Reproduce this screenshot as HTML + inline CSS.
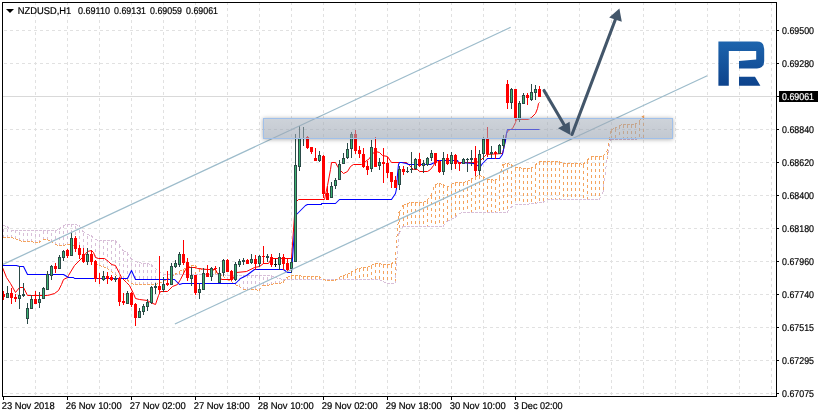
<!DOCTYPE html>
<html><head><meta charset="utf-8"><title>NZDUSD H1</title>
<style>
html,body{margin:0;padding:0;background:#fff;}
body{width:819px;height:417px;overflow:hidden;font-family:"Liberation Sans",sans-serif;}
svg{display:block;will-change:transform;}
</style></head><body>
<svg width="819" height="417" viewBox="0 0 819 417">
<defs>
<linearGradient id="lg" x1="0" y1="0" x2="0" y2="1"><stop offset="0" stop-color="#1d64ad"/><stop offset="1" stop-color="#0d438c"/></linearGradient>
<linearGradient id="zg" x1="0" y1="0" x2="0" y2="1"><stop offset="0" stop-color="rgb(157,167,180)" stop-opacity="0.5"/><stop offset="1" stop-color="rgb(157,167,180)" stop-opacity="0.62"/></linearGradient>
<filter id="bl" x="-5%" y="-60%" width="110%" height="220%"><feGaussianBlur stdDeviation="2"/></filter>
<clipPath id="outside"><path clip-rule="evenodd" d="M0 0H819V417H0Z M263.5 118.5H672.5V138.5H263.5Z"/></clipPath>
</defs>
<rect width="819" height="417" fill="#fff"/>
<g stroke="#e1e1e1" stroke-width="1" stroke-dasharray="3 3" shape-rendering="crispEdges"><line x1="35.5" y1="2" x2="35.5" y2="396"/><line x1="67.5" y1="2" x2="67.5" y2="396"/><line x1="99.5" y1="2" x2="99.5" y2="396"/><line x1="131.5" y1="2" x2="131.5" y2="396"/><line x1="163.5" y1="2" x2="163.5" y2="396"/><line x1="195.5" y1="2" x2="195.5" y2="396"/><line x1="227.5" y1="2" x2="227.5" y2="396"/><line x1="259.5" y1="2" x2="259.5" y2="396"/><line x1="291.5" y1="2" x2="291.5" y2="396"/><line x1="323.5" y1="2" x2="323.5" y2="396"/><line x1="355.5" y1="2" x2="355.5" y2="396"/><line x1="387.5" y1="2" x2="387.5" y2="396"/><line x1="419.5" y1="2" x2="419.5" y2="396"/><line x1="451.5" y1="2" x2="451.5" y2="396"/><line x1="483.5" y1="2" x2="483.5" y2="396"/><line x1="515.5" y1="2" x2="515.5" y2="396"/><line x1="547.5" y1="2" x2="547.5" y2="396"/><line x1="579.5" y1="2" x2="579.5" y2="396"/><line x1="611.5" y1="2" x2="611.5" y2="396"/><line x1="643.5" y1="2" x2="643.5" y2="396"/><line x1="675.5" y1="2" x2="675.5" y2="396"/><line x1="707.5" y1="2" x2="707.5" y2="396"/><line x1="739.5" y1="2" x2="739.5" y2="396"/><line x1="771.5" y1="2" x2="771.5" y2="396"/><line x1="4" y1="30.5" x2="776" y2="30.5"/><line x1="4" y1="63.5" x2="776" y2="63.5"/><line x1="4" y1="129.5" x2="776" y2="129.5"/><line x1="4" y1="162.5" x2="776" y2="162.5"/><line x1="4" y1="195.5" x2="776" y2="195.5"/><line x1="4" y1="228.5" x2="776" y2="228.5"/><line x1="4" y1="261.5" x2="776" y2="261.5"/><line x1="4" y1="294.5" x2="776" y2="294.5"/><line x1="4" y1="327.5" x2="776" y2="327.5"/><line x1="4" y1="360.5" x2="776" y2="360.5"/><line x1="4" y1="393.5" x2="776" y2="393.5"/></g>
<line x1="3" y1="96.5" x2="776" y2="96.5" stroke="#d9d9d9" stroke-width="1" shape-rendering="crispEdges"/>
<g fill="none" stroke-width="1" stroke-dasharray="3 3" shape-rendering="crispEdges"><path d="M3.5 237.5V225.5M7.5 237.5V226.5M11.5 237.5V230.5M15.5 238.5V230.5M19.5 240.5V230.5M23.5 241.5V230.5M27.5 241.5V230.5M31.5 241.5V230.5M35.5 242.5V230.5M39.5 242.5V230.5M43.5 239.5V230.5M47.5 239.5V230.5M51.5 241.5V230.5M55.5 244.5V230.5M59.5 245.5V229.5M63.5 245.5V225.5M67.5 244.5V224.5M71.5 244.5V224.5M75.5 246.5V224.5M79.5 250.5V225.5M83.5 253.5V231.5M87.5 256.5V234.5M91.5 259.5V235.5M95.5 263.5V239.5M99.5 265.5V240.5M103.5 266.5V240.5M107.5 268.5V240.5M111.5 271.5V240.5M115.5 274.5V240.5M119.5 277.5V244.5M123.5 278.5V250.5M127.5 279.5V252.5M131.5 283.5V258.5M135.5 284.5V261.5M139.5 284.5V262.5M143.5 284.5V263.5M147.5 284.5V263.5M151.5 284.5V264.5M155.5 284.5V268.5M159.5 283.5V271.5M163.5 281.5V274.5M167.5 279.5V274.5M171.5 276.5V274.5M223.5 276.5V274.5M227.5 279.5V275.5M231.5 281.5V275.5M235.5 284.5V275.5M239.5 286.5V275.5M243.5 289.5V275.5M247.5 289.5V275.5M251.5 289.5V275.5M255.5 289.5V275.5M259.5 290.5V275.5M263.5 285.5V275.5M267.5 285.5V275.5M271.5 284.5V275.5M275.5 283.5V277.5M279.5 283.5V278.5M283.5 282.5V279.5" stroke="#d8bfd8"/><path d="M179.5 271.5V274.5M183.5 269.5V274.5M187.5 267.5V274.5M191.5 265.5V274.5M195.5 265.5V274.5M199.5 268.5V274.5M203.5 269.5V274.5M207.5 269.5V274.5M211.5 269.5V274.5M215.5 270.5V274.5M287.5 277.5V279.5M291.5 275.5V279.5M295.5 275.5V279.5M299.5 275.5V279.5M303.5 276.5V279.5M307.5 276.5V279.5M311.5 276.5V279.5M315.5 276.5V279.5M319.5 276.5V279.5M339.5 277.5V279.5M343.5 275.5V279.5M347.5 274.5V279.5M351.5 272.5V279.5M355.5 269.5V279.5M359.5 268.5V279.5M363.5 267.5V279.5M367.5 267.5V279.5M371.5 265.5V279.5M375.5 263.5V279.5M379.5 263.5V279.5M383.5 264.5V281.5M387.5 264.5V283.5M391.5 264.5V283.5M395.5 260.5V283.5M399.5 212.5V233.5M403.5 205.5V226.5M407.5 203.5V226.5M411.5 202.5V226.5M415.5 202.5V226.5M419.5 202.5V226.5M423.5 202.5V226.5M427.5 200.5V226.5M431.5 195.5V226.5M435.5 184.5V226.5M439.5 183.5V226.5M443.5 184.5V226.5M447.5 187.5V221.5M451.5 184.5V219.5M455.5 182.5V217.5M459.5 182.5V213.5M463.5 182.5V212.5M467.5 181.5V212.5M471.5 179.5V212.5M475.5 176.5V212.5M479.5 175.5V212.5M483.5 176.5V212.5M487.5 179.5V212.5M491.5 179.5V212.5M495.5 180.5V212.5M499.5 177.5V212.5M503.5 164.5V212.5M507.5 163.5V212.5M511.5 164.5V207.5M515.5 167.5V204.5M519.5 167.5V204.5M523.5 168.5V204.5M527.5 168.5V204.5M531.5 168.5V203.5M535.5 165.5V203.5M539.5 161.5V202.5M543.5 161.5V202.5M547.5 161.5V199.5M551.5 161.5V199.5M555.5 161.5V199.5M559.5 161.5V199.5M563.5 163.5V199.5M567.5 163.5V199.5M571.5 163.5V199.5M575.5 163.5V199.5M579.5 163.5V199.5M583.5 164.5V199.5M587.5 160.5V199.5M591.5 156.5V199.5M595.5 156.5V199.5M599.5 156.5V199.5M603.5 156.5V192.5M607.5 151.5V158.5M611.5 129.5V139.5M615.5 128.5V139.5M619.5 125.5V139.5M623.5 124.5V139.5M627.5 124.5V139.5M631.5 124.5V139.5M635.5 124.5V139.5M639.5 121.5V138.5M643.5 116.5V137.5" stroke="#f4a460"/><path d="M3 225.5L7 226.5M7 226.5L11 230.5M11 230.5L15 230.5M15 230.5L19 230.5M19 230.5L23 230.5M23 230.5L27 230.5M27 230.5L31 230.5M31 230.5L35 230.5M35 230.5L39 230.5M39 230.5L43 230.5M43 230.5L47 230.5M47 230.5L51 230.5M51 230.5L55 230.5M55 230.5L59 229.5M59 229.5L63 225.5M63 225.5L67 224.5M67 224.5L71 224.5M71 224.5L75 224.5M75 224.5L79 225.5M79 225.5L83 231.5M83 231.5L87 234.5M87 234.5L91 235.5M91 235.5L95 239.5M95 239.5L99 240.5M99 240.5L103 240.5M103 240.5L107 240.5M107 240.5L111 240.5M111 240.5L115 240.5M115 240.5L119 244.5M119 244.5L123 250.5M123 250.5L127 252.5M127 252.5L131 258.5M131 258.5L135 261.5M135 261.5L139 262.5M139 262.5L143 263.5M143 263.5L147 263.5M147 263.5L151 264.5M151 264.5L155 268.5M155 268.5L159 271.5M159 271.5L163 274.5M163 274.5L167 274.5M167 274.5L171 274.5M171 274.5L175 274.5M175 274.5L179 274.5M179 274.5L183 274.5M183 274.5L187 274.5M187 274.5L191 274.5M191 274.5L195 274.5M195 274.5L199 274.5M199 274.5L203 274.5M203 274.5L207 274.5M207 274.5L211 274.5M211 274.5L215 274.5M215 274.5L219 274.5M219 274.5L223 274.5M223 274.5L227 275.5M227 275.5L231 275.5M231 275.5L235 275.5M235 275.5L239 275.5M239 275.5L243 275.5M243 275.5L247 275.5M247 275.5L251 275.5M251 275.5L255 275.5M255 275.5L259 275.5M259 275.5L263 275.5M263 275.5L267 275.5M267 275.5L271 275.5M271 275.5L275 277.5M275 277.5L279 278.5M279 278.5L283 279.5M283 279.5L287 279.5M287 279.5L291 279.5M291 279.5L295 279.5M295 279.5L299 279.5M299 279.5L303 279.5M303 279.5L307 279.5M307 279.5L311 279.5M311 279.5L315 279.5M315 279.5L319 279.5M319 279.5L323 279.5M323 279.5L327 279.5M327 279.5L331 279.5M331 279.5L335 279.5M335 279.5L339 279.5M339 279.5L343 279.5M343 279.5L347 279.5M347 279.5L351 279.5M351 279.5L355 279.5M355 279.5L359 279.5M359 279.5L363 279.5M363 279.5L367 279.5M367 279.5L371 279.5M371 279.5L375 279.5M375 279.5L379 279.5M379 279.5L383 281.5M383 281.5L387 283.5M387 283.5L391 283.5M391 283.5L395 283.5M395 283.5L399 233.5M399 233.5L403 226.5M403 226.5L407 226.5M407 226.5L411 226.5M411 226.5L415 226.5M415 226.5L419 226.5M419 226.5L423 226.5M423 226.5L427 226.5M427 226.5L431 226.5M431 226.5L435 226.5M435 226.5L439 226.5M439 226.5L443 226.5M443 226.5L447 221.5M447 221.5L451 219.5M451 219.5L455 217.5M455 217.5L459 213.5M459 213.5L463 212.5M463 212.5L467 212.5M467 212.5L471 212.5M471 212.5L475 212.5M475 212.5L479 212.5M479 212.5L483 212.5M483 212.5L487 212.5M487 212.5L491 212.5M491 212.5L495 212.5M495 212.5L499 212.5M499 212.5L503 212.5M503 212.5L507 212.5M507 212.5L511 207.5M511 207.5L515 204.5M515 204.5L519 204.5M519 204.5L523 204.5M523 204.5L527 204.5M527 204.5L531 203.5M531 203.5L535 203.5M535 203.5L539 202.5M539 202.5L543 202.5M543 202.5L547 199.5M547 199.5L551 199.5M551 199.5L555 199.5M555 199.5L559 199.5M559 199.5L563 199.5M563 199.5L567 199.5M567 199.5L571 199.5M571 199.5L575 199.5M575 199.5L579 199.5M579 199.5L583 199.5M583 199.5L587 199.5M587 199.5L591 199.5M591 199.5L595 199.5M595 199.5L599 199.5M599 199.5L603 192.5M603 192.5L607 158.5M607 158.5L611 139.5M611 139.5L615 139.5M615 139.5L619 139.5M619 139.5L623 139.5M623 139.5L627 139.5M627 139.5L631 139.5M631 139.5L635 139.5M635 139.5L639 138.5M639 138.5L643 137.5" stroke="#d8bfd8"/><path d="M3 237.5L7 237.5M7 237.5L11 237.5M11 237.5L15 238.5M15 238.5L19 240.5M19 240.5L23 241.5M23 241.5L27 241.5M27 241.5L31 241.5M31 241.5L35 242.5M35 242.5L39 242.5M39 242.5L43 239.5M43 239.5L47 239.5M47 239.5L51 241.5M51 241.5L55 244.5M55 244.5L59 245.5M59 245.5L63 245.5M63 245.5L67 244.5M67 244.5L71 244.5M71 244.5L75 246.5M75 246.5L79 250.5M79 250.5L83 253.5M83 253.5L87 256.5M87 256.5L91 259.5M91 259.5L95 263.5M95 263.5L99 265.5M99 265.5L103 266.5M103 266.5L107 268.5M107 268.5L111 271.5M111 271.5L115 274.5M115 274.5L119 277.5M119 277.5L123 278.5M123 278.5L127 279.5M127 279.5L131 283.5M131 283.5L135 284.5M135 284.5L139 284.5M139 284.5L143 284.5M143 284.5L147 284.5M147 284.5L151 284.5M151 284.5L155 284.5M155 284.5L159 283.5M159 283.5L163 281.5M163 281.5L167 279.5M167 279.5L171 276.5M171 276.5L175 274.5M175 274.5L179 271.5M179 271.5L183 269.5M183 269.5L187 267.5M187 267.5L191 265.5M191 265.5L195 265.5M195 265.5L199 268.5M199 268.5L203 269.5M203 269.5L207 269.5M207 269.5L211 269.5M211 269.5L215 270.5M215 270.5L219 274.5M219 274.5L223 276.5M223 276.5L227 279.5M227 279.5L231 281.5M231 281.5L235 284.5M235 284.5L239 286.5M239 286.5L243 289.5M243 289.5L247 289.5M247 289.5L251 289.5M251 289.5L255 289.5M255 289.5L259 290.5M259 290.5L263 285.5M263 285.5L267 285.5M267 285.5L271 284.5M271 284.5L275 283.5M275 283.5L279 283.5M279 283.5L283 282.5M283 282.5L287 277.5M287 277.5L291 275.5M291 275.5L295 275.5M295 275.5L299 275.5M299 275.5L303 276.5M303 276.5L307 276.5M307 276.5L311 276.5M311 276.5L315 276.5M315 276.5L319 276.5M319 276.5L323 279.5M323 279.5L327 280.5M327 280.5L331 280.5M331 280.5L335 280.5M335 280.5L339 277.5M339 277.5L343 275.5M343 275.5L347 274.5M347 274.5L351 272.5M351 272.5L355 269.5M355 269.5L359 268.5M359 268.5L363 267.5M363 267.5L367 267.5M367 267.5L371 265.5M371 265.5L375 263.5M375 263.5L379 263.5M379 263.5L383 264.5M383 264.5L387 264.5M387 264.5L391 264.5M391 264.5L395 260.5M395 260.5L399 212.5M399 212.5L403 205.5M403 205.5L407 203.5M407 203.5L411 202.5M411 202.5L415 202.5M415 202.5L419 202.5M419 202.5L423 202.5M423 202.5L427 200.5M427 200.5L431 195.5M431 195.5L435 184.5M435 184.5L439 183.5M439 183.5L443 184.5M443 184.5L447 187.5M447 187.5L451 184.5M451 184.5L455 182.5M455 182.5L459 182.5M459 182.5L463 182.5M463 182.5L467 181.5M467 181.5L471 179.5M471 179.5L475 176.5M475 176.5L479 175.5M479 175.5L483 176.5M483 176.5L487 179.5M487 179.5L491 179.5M491 179.5L495 180.5M495 180.5L499 177.5M499 177.5L503 164.5M503 164.5L507 163.5M507 163.5L511 164.5M511 164.5L515 167.5M515 167.5L519 167.5M519 167.5L523 168.5M523 168.5L527 168.5M527 168.5L531 168.5M531 168.5L535 165.5M535 165.5L539 161.5M539 161.5L543 161.5M543 161.5L547 161.5M547 161.5L551 161.5M551 161.5L555 161.5M555 161.5L559 161.5M559 161.5L563 163.5M563 163.5L567 163.5M567 163.5L571 163.5M571 163.5L575 163.5M575 163.5L579 163.5M579 163.5L583 164.5M583 164.5L587 160.5M587 160.5L591 156.5M591 156.5L595 156.5M595 156.5L599 156.5M599 156.5L603 156.5M603 156.5L607 151.5M607 151.5L611 129.5M611 129.5L615 128.5M615 128.5L619 125.5M619 125.5L623 124.5M623 124.5L627 124.5M627 124.5L631 124.5M631 124.5L635 124.5M635 124.5L639 121.5M639 121.5L643 116.5" stroke="#f4a460"/></g>
<polygon points="644.2,115 644.2,118.4 641.4,116.7" fill="#f4a460"/>
<polyline points="2.5,267.5 6.5,277.5 10.5,283.5 15.5,292.5 19.5,287.5 23.5,287.5 27.5,295.5 47.5,295.5 54.5,293.5 58.5,290.5 61.5,284.5 63.5,279.5 67.5,277.5 68.5,275.5 74.5,265.5 82.5,257.5 87.5,251.5 91.5,250.5 93.5,252.5 95.5,257.5 98.5,258.5 104.5,258.5 108.5,261.5 111.5,264.5 115.5,265.5 119.5,273.5 121.5,277.5 126.5,282.5 129.5,285.5 133.5,293.5 135.5,298.5 139.5,299.5 147.5,300.5 150.5,302.5 155.5,304.5 158.5,295.5 160.5,291.5 167.5,291.5 172.5,286.5 177.5,284.5 180.5,279.5 185.5,269.5 188.5,267.5 195.5,267.5 197.5,268.5 207.5,269.5 215.5,269.5 217.5,273.5 218.5,274.5 221.5,279.5 232.5,279.5 236.5,272.5 246.5,271.5 254.5,267.5 259.5,266.5 263.5,263.5 268.5,263.5 271.5,258.5 291.5,258.5 295.5,201.5 296.5,201.5 298.5,199.5 324.5,199.5 327.5,185.5 330.5,169.5 331.5,162.5 335.5,162.5 337.5,166.5 340.5,170.5 343.5,173.5 347.5,171.5 350.5,166.5 353.5,164.5 361.5,164.5 365.5,161.5 369.5,158.5 371.5,154.5 375.5,151.5 379.5,152.5 382.5,155.5 387.5,156.5 391.5,162.5 399.5,162.5 406.5,162.5 409.5,165.5 413.5,169.5 417.5,169.5 419.5,171.5 427.5,171.5 430.5,169.5 433.5,165.5 435.5,161.5 438.5,160.5 455.5,160.5 458.5,162.5 476.5,162.5 480.5,160.5 484.5,156.5 486.5,154.5 502.5,153.5 503.5,149.5 506.5,133.5 508.5,130.5 512.5,128.5 515.5,122.5 516.5,119.5 519.5,119.5 528.5,119.5 531.5,117.5 535.5,113.5 537.5,108.5 538.5,103.5 539.5,102.5" fill="none" stroke="#ff0000" stroke-width="1" stroke-linejoin="round"/><polyline points="2.5,265.5 16.5,265.5 19.5,266.5 23.5,266.5 27.5,274.5 63.5,274.5 68.5,277.5 73.5,277.5 74.5,278.5 127.5,278.5 131.5,270.5 135.5,279.5 174.5,279.5 179.5,284.5 182.5,283.5 235.5,283.5 240.5,278.5 246.5,275.5 254.5,269.5 256.5,269.5 283.5,269.5 287.5,272.5 291.5,272.5 295.5,216.5 296.5,214.5 301.5,209.5 305.5,205.5 307.5,204.5 321.5,204.5 321.5,203.5 335.5,203.5 339.5,199.5 391.5,199.5 395.5,193.5 396.5,188.5 397.5,174.5 398.5,164.5 399.5,162.5 401.5,162.5 406.5,163.5 408.5,164.5 430.5,164.5 434.5,162.5 435.5,160.5 457.5,160.5 458.5,162.5 473.5,163.5 477.5,165.5 480.5,166.5 482.5,163.5 485.5,160.5 487.5,158.5 499.5,158.5 502.5,154.5 503.5,149.5 505.5,140.5 506.5,133.5 507.5,129.5 539.5,129.5" fill="none" stroke="#0000ff" stroke-width="1.05" stroke-linejoin="round"/>
<g shape-rendering="crispEdges"><rect x="3" y="291" width="1" height="9" fill="#ff0000"/><rect x="2" y="294" width="3" height="3" fill="#ff0000"/><rect x="7" y="286" width="1" height="12" fill="#2b4a47"/><rect x="6" y="293" width="3" height="5" fill="#2b4a47"/><rect x="7" y="294" width="1" height="3" fill="#3cb371"/><rect x="11" y="288" width="1" height="16" fill="#ff0000"/><rect x="10" y="293" width="3" height="5" fill="#ff0000"/><rect x="15" y="294" width="1" height="8" fill="#ff0000"/><rect x="14" y="297" width="3" height="2" fill="#ff0000"/><rect x="19" y="266" width="1" height="43" fill="#2b4a47"/><rect x="18" y="295" width="3" height="4" fill="#2b4a47"/><rect x="19" y="296" width="1" height="2" fill="#3cb371"/><rect x="23" y="283" width="1" height="14" fill="#2b4a47"/><rect x="22" y="294" width="3" height="2" fill="#2b4a47"/><rect x="27" y="303" width="1" height="21" fill="#2b4a47"/><rect x="26" y="308" width="3" height="11" fill="#2b4a47"/><rect x="27" y="309" width="1" height="9" fill="#3cb371"/><rect x="31" y="295" width="1" height="14" fill="#2b4a47"/><rect x="30" y="299" width="3" height="10" fill="#2b4a47"/><rect x="31" y="300" width="1" height="8" fill="#3cb371"/><rect x="35" y="291" width="1" height="13" fill="#ff0000"/><rect x="34" y="299" width="3" height="5" fill="#ff0000"/><rect x="39" y="292" width="1" height="16" fill="#2b4a47"/><rect x="38" y="299" width="3" height="4" fill="#2b4a47"/><rect x="39" y="300" width="1" height="2" fill="#3cb371"/><rect x="43" y="287" width="1" height="12" fill="#2b4a47"/><rect x="42" y="288" width="3" height="11" fill="#2b4a47"/><rect x="43" y="289" width="1" height="9" fill="#3cb371"/><rect x="47" y="271" width="1" height="19" fill="#2b4a47"/><rect x="46" y="274" width="3" height="16" fill="#2b4a47"/><rect x="47" y="275" width="1" height="14" fill="#3cb371"/><rect x="51" y="265" width="1" height="15" fill="#2b4a47"/><rect x="50" y="266" width="3" height="10" fill="#2b4a47"/><rect x="51" y="267" width="1" height="8" fill="#3cb371"/><rect x="55" y="263" width="1" height="10" fill="#ff0000"/><rect x="54" y="266" width="3" height="3" fill="#ff0000"/><rect x="59" y="255" width="1" height="14" fill="#2b4a47"/><rect x="58" y="257" width="3" height="12" fill="#2b4a47"/><rect x="59" y="258" width="1" height="10" fill="#3cb371"/><rect x="63" y="250" width="1" height="11" fill="#2b4a47"/><rect x="62" y="251" width="3" height="7" fill="#2b4a47"/><rect x="63" y="252" width="1" height="5" fill="#3cb371"/><rect x="67" y="249" width="1" height="9" fill="#ff0000"/><rect x="66" y="250" width="3" height="6" fill="#ff0000"/><rect x="71" y="233" width="1" height="23" fill="#2b4a47"/><rect x="70" y="238" width="3" height="18" fill="#2b4a47"/><rect x="71" y="239" width="1" height="16" fill="#3cb371"/><rect x="75" y="236" width="1" height="16" fill="#ff0000"/><rect x="74" y="238" width="3" height="11" fill="#ff0000"/><rect x="79" y="245" width="1" height="14" fill="#ff0000"/><rect x="78" y="248" width="3" height="7" fill="#ff0000"/><rect x="83" y="248" width="1" height="15" fill="#ff0000"/><rect x="82" y="254" width="3" height="8" fill="#ff0000"/><rect x="87" y="248" width="1" height="17" fill="#2b4a47"/><rect x="86" y="254" width="3" height="8" fill="#2b4a47"/><rect x="87" y="255" width="1" height="6" fill="#3cb371"/><rect x="91" y="250" width="1" height="15" fill="#ff0000"/><rect x="90" y="254" width="3" height="8" fill="#ff0000"/><rect x="95" y="260" width="1" height="22" fill="#ff0000"/><rect x="94" y="261" width="3" height="18" fill="#ff0000"/><rect x="99" y="273" width="1" height="11" fill="#ff0000"/><rect x="98" y="278" width="3" height="1" fill="#ff0000"/><rect x="103" y="271" width="1" height="10" fill="#2b4a47"/><rect x="102" y="276" width="3" height="4" fill="#2b4a47"/><rect x="103" y="277" width="1" height="2" fill="#3cb371"/><rect x="107" y="272" width="1" height="12" fill="#ff0000"/><rect x="106" y="276" width="3" height="3" fill="#ff0000"/><rect x="111" y="275" width="1" height="6" fill="#ff0000"/><rect x="110" y="277" width="3" height="3" fill="#ff0000"/><rect x="115" y="276" width="1" height="6" fill="#2b4a47"/><rect x="114" y="278" width="3" height="2" fill="#2b4a47"/><rect x="119" y="277" width="1" height="29" fill="#ff0000"/><rect x="118" y="278" width="3" height="24" fill="#ff0000"/><rect x="123" y="293" width="1" height="12" fill="#ff0000"/><rect x="122" y="301" width="3" height="2" fill="#ff0000"/><rect x="127" y="291" width="1" height="13" fill="#2b4a47"/><rect x="126" y="293" width="3" height="11" fill="#2b4a47"/><rect x="127" y="294" width="1" height="9" fill="#3cb371"/><rect x="131" y="292" width="1" height="15" fill="#ff0000"/><rect x="130" y="293" width="3" height="12" fill="#ff0000"/><rect x="135" y="303" width="1" height="23" fill="#ff0000"/><rect x="134" y="304" width="3" height="14" fill="#ff0000"/><rect x="139" y="308" width="1" height="10" fill="#2b4a47"/><rect x="138" y="311" width="3" height="7" fill="#2b4a47"/><rect x="139" y="312" width="1" height="5" fill="#3cb371"/><rect x="143" y="304" width="1" height="11" fill="#2b4a47"/><rect x="142" y="306" width="3" height="6" fill="#2b4a47"/><rect x="143" y="307" width="1" height="4" fill="#3cb371"/><rect x="147" y="299" width="1" height="12" fill="#2b4a47"/><rect x="146" y="302" width="3" height="5" fill="#2b4a47"/><rect x="147" y="303" width="1" height="3" fill="#3cb371"/><rect x="151" y="286" width="1" height="18" fill="#2b4a47"/><rect x="150" y="287" width="3" height="16" fill="#2b4a47"/><rect x="151" y="288" width="1" height="14" fill="#3cb371"/><rect x="155" y="283" width="1" height="11" fill="#2b4a47"/><rect x="154" y="286" width="3" height="2" fill="#2b4a47"/><rect x="159" y="256" width="1" height="38" fill="#ff0000"/><rect x="158" y="286" width="3" height="4" fill="#ff0000"/><rect x="163" y="277" width="1" height="15" fill="#2b4a47"/><rect x="162" y="284" width="3" height="6" fill="#2b4a47"/><rect x="163" y="285" width="1" height="4" fill="#3cb371"/><rect x="167" y="271" width="1" height="15" fill="#ff0000"/><rect x="166" y="283" width="3" height="2" fill="#ff0000"/><rect x="171" y="263" width="1" height="22" fill="#2b4a47"/><rect x="170" y="266" width="3" height="19" fill="#2b4a47"/><rect x="171" y="267" width="1" height="17" fill="#3cb371"/><rect x="175" y="260" width="1" height="8" fill="#2b4a47"/><rect x="174" y="263" width="3" height="4" fill="#2b4a47"/><rect x="175" y="264" width="1" height="2" fill="#3cb371"/><rect x="179" y="252" width="1" height="15" fill="#2b4a47"/><rect x="178" y="254" width="3" height="11" fill="#2b4a47"/><rect x="179" y="255" width="1" height="9" fill="#3cb371"/><rect x="183" y="240" width="1" height="25" fill="#ff0000"/><rect x="182" y="254" width="3" height="9" fill="#ff0000"/><rect x="187" y="258" width="1" height="23" fill="#ff0000"/><rect x="186" y="262" width="3" height="16" fill="#ff0000"/><rect x="191" y="267" width="1" height="19" fill="#2b4a47"/><rect x="190" y="275" width="3" height="4" fill="#2b4a47"/><rect x="191" y="276" width="1" height="2" fill="#3cb371"/><rect x="195" y="275" width="1" height="20" fill="#ff0000"/><rect x="194" y="275" width="3" height="18" fill="#ff0000"/><rect x="199" y="283" width="1" height="16" fill="#2b4a47"/><rect x="198" y="289" width="3" height="4" fill="#2b4a47"/><rect x="199" y="290" width="1" height="2" fill="#3cb371"/><rect x="203" y="268" width="1" height="22" fill="#2b4a47"/><rect x="202" y="273" width="3" height="17" fill="#2b4a47"/><rect x="203" y="274" width="1" height="15" fill="#3cb371"/><rect x="207" y="265" width="1" height="12" fill="#ff0000"/><rect x="206" y="273" width="3" height="4" fill="#ff0000"/><rect x="211" y="267" width="1" height="14" fill="#2b4a47"/><rect x="210" y="268" width="3" height="9" fill="#2b4a47"/><rect x="211" y="269" width="1" height="7" fill="#3cb371"/><rect x="215" y="266" width="1" height="4" fill="#ff0000"/><rect x="214" y="268" width="3" height="1" fill="#ff0000"/><rect x="219" y="267" width="1" height="16" fill="#2b4a47"/><rect x="218" y="273" width="3" height="10" fill="#2b4a47"/><rect x="219" y="274" width="1" height="8" fill="#3cb371"/><rect x="223" y="259" width="1" height="17" fill="#2b4a47"/><rect x="222" y="260" width="3" height="13" fill="#2b4a47"/><rect x="223" y="261" width="1" height="11" fill="#3cb371"/><rect x="227" y="259" width="1" height="13" fill="#ff0000"/><rect x="226" y="260" width="3" height="12" fill="#ff0000"/><rect x="231" y="270" width="1" height="11" fill="#ff0000"/><rect x="230" y="271" width="3" height="9" fill="#ff0000"/><rect x="235" y="262" width="1" height="19" fill="#2b4a47"/><rect x="234" y="264" width="3" height="16" fill="#2b4a47"/><rect x="235" y="265" width="1" height="14" fill="#3cb371"/><rect x="239" y="259" width="1" height="8" fill="#2b4a47"/><rect x="238" y="261" width="3" height="4" fill="#2b4a47"/><rect x="239" y="262" width="1" height="2" fill="#3cb371"/><rect x="243" y="258" width="1" height="7" fill="#2b4a47"/><rect x="242" y="260" width="3" height="2" fill="#2b4a47"/><rect x="247" y="259" width="1" height="5" fill="#ff0000"/><rect x="246" y="260" width="3" height="4" fill="#ff0000"/><rect x="251" y="254" width="1" height="10" fill="#2b4a47"/><rect x="250" y="259" width="3" height="4" fill="#2b4a47"/><rect x="251" y="260" width="1" height="2" fill="#3cb371"/><rect x="255" y="255" width="1" height="15" fill="#ff0000"/><rect x="254" y="259" width="3" height="5" fill="#ff0000"/><rect x="259" y="255" width="1" height="12" fill="#2b4a47"/><rect x="258" y="256" width="3" height="8" fill="#2b4a47"/><rect x="259" y="257" width="1" height="6" fill="#3cb371"/><rect x="263" y="246" width="1" height="18" fill="#ff0000"/><rect x="262" y="256" width="3" height="1" fill="#ff0000"/><rect x="267" y="254" width="1" height="8" fill="#2b4a47"/><rect x="266" y="256" width="3" height="2" fill="#2b4a47"/><rect x="271" y="254" width="1" height="13" fill="#ff0000"/><rect x="270" y="257" width="3" height="8" fill="#ff0000"/><rect x="275" y="259" width="1" height="8" fill="#101010"/><rect x="274" y="264" width="3" height="1" fill="#101010"/><rect x="279" y="253" width="1" height="17" fill="#2b4a47"/><rect x="278" y="257" width="3" height="8" fill="#2b4a47"/><rect x="279" y="258" width="1" height="6" fill="#3cb371"/><rect x="283" y="254" width="1" height="16" fill="#ff0000"/><rect x="282" y="257" width="3" height="7" fill="#ff0000"/><rect x="287" y="258" width="1" height="13" fill="#ff0000"/><rect x="286" y="263" width="3" height="7" fill="#ff0000"/><rect x="291" y="258" width="1" height="15" fill="#2b4a47"/><rect x="290" y="262" width="3" height="7" fill="#2b4a47"/><rect x="291" y="263" width="1" height="5" fill="#3cb371"/><rect x="295" y="134" width="1" height="128" fill="#2b4a47"/><rect x="294" y="165" width="3" height="97" fill="#2b4a47"/><rect x="295" y="166" width="1" height="95" fill="#3cb371"/><rect x="299" y="126" width="1" height="45" fill="#2b4a47"/><rect x="298" y="138" width="3" height="29" fill="#2b4a47"/><rect x="299" y="139" width="1" height="27" fill="#3cb371"/><rect x="303" y="127" width="1" height="19" fill="#2b4a47"/><rect x="302" y="138" width="3" height="1" fill="#2b4a47"/><rect x="307" y="136" width="1" height="13" fill="#ff0000"/><rect x="306" y="137" width="3" height="11" fill="#ff0000"/><rect x="311" y="147" width="1" height="7" fill="#ff0000"/><rect x="310" y="147" width="3" height="5" fill="#ff0000"/><rect x="315" y="148" width="1" height="13" fill="#ff0000"/><rect x="314" y="158" width="3" height="3" fill="#ff0000"/><rect x="319" y="151" width="1" height="11" fill="#2b4a47"/><rect x="318" y="155" width="3" height="6" fill="#2b4a47"/><rect x="319" y="156" width="1" height="4" fill="#3cb371"/><rect x="323" y="155" width="1" height="43" fill="#ff0000"/><rect x="322" y="156" width="3" height="38" fill="#ff0000"/><rect x="327" y="186" width="1" height="14" fill="#ff0000"/><rect x="326" y="193" width="3" height="7" fill="#ff0000"/><rect x="331" y="182" width="1" height="16" fill="#2b4a47"/><rect x="330" y="186" width="3" height="12" fill="#2b4a47"/><rect x="331" y="187" width="1" height="10" fill="#3cb371"/><rect x="335" y="178" width="1" height="11" fill="#2b4a47"/><rect x="334" y="180" width="3" height="6" fill="#2b4a47"/><rect x="335" y="181" width="1" height="4" fill="#3cb371"/><rect x="339" y="160" width="1" height="20" fill="#2b4a47"/><rect x="338" y="164" width="3" height="16" fill="#2b4a47"/><rect x="339" y="165" width="1" height="14" fill="#3cb371"/><rect x="343" y="153" width="1" height="11" fill="#2b4a47"/><rect x="342" y="158" width="3" height="6" fill="#2b4a47"/><rect x="343" y="159" width="1" height="4" fill="#3cb371"/><rect x="347" y="143" width="1" height="16" fill="#2b4a47"/><rect x="346" y="149" width="3" height="9" fill="#2b4a47"/><rect x="347" y="150" width="1" height="7" fill="#3cb371"/><rect x="351" y="132" width="1" height="26" fill="#2b4a47"/><rect x="350" y="134" width="3" height="15" fill="#2b4a47"/><rect x="351" y="135" width="1" height="13" fill="#3cb371"/><rect x="355" y="130" width="1" height="24" fill="#ff0000"/><rect x="354" y="134" width="3" height="17" fill="#ff0000"/><rect x="359" y="146" width="1" height="12" fill="#ff0000"/><rect x="358" y="150" width="3" height="4" fill="#ff0000"/><rect x="363" y="148" width="1" height="20" fill="#ff0000"/><rect x="362" y="154" width="3" height="13" fill="#ff0000"/><rect x="367" y="161" width="1" height="14" fill="#ff0000"/><rect x="366" y="166" width="3" height="4" fill="#ff0000"/><rect x="371" y="140" width="1" height="32" fill="#2b4a47"/><rect x="370" y="147" width="3" height="22" fill="#2b4a47"/><rect x="371" y="148" width="1" height="20" fill="#3cb371"/><rect x="375" y="137" width="1" height="30" fill="#ff0000"/><rect x="374" y="148" width="3" height="19" fill="#ff0000"/><rect x="379" y="158" width="1" height="12" fill="#2b4a47"/><rect x="378" y="162" width="3" height="4" fill="#2b4a47"/><rect x="379" y="163" width="1" height="2" fill="#3cb371"/><rect x="383" y="148" width="1" height="35" fill="#ff0000"/><rect x="382" y="162" width="3" height="2" fill="#ff0000"/><rect x="387" y="157" width="1" height="21" fill="#ff0000"/><rect x="386" y="163" width="3" height="10" fill="#ff0000"/><rect x="391" y="172" width="1" height="16" fill="#ff0000"/><rect x="390" y="172" width="3" height="10" fill="#ff0000"/><rect x="395" y="176" width="1" height="12" fill="#ff0000"/><rect x="394" y="180" width="3" height="8" fill="#ff0000"/><rect x="399" y="166" width="1" height="24" fill="#2b4a47"/><rect x="398" y="169" width="3" height="16" fill="#2b4a47"/><rect x="399" y="170" width="1" height="14" fill="#3cb371"/><rect x="403" y="166" width="1" height="9" fill="#ff0000"/><rect x="402" y="169" width="3" height="3" fill="#ff0000"/><rect x="407" y="167" width="1" height="6" fill="#2b4a47"/><rect x="406" y="171" width="3" height="1" fill="#2b4a47"/><rect x="411" y="152" width="1" height="21" fill="#2b4a47"/><rect x="410" y="169" width="3" height="1" fill="#2b4a47"/><rect x="415" y="158" width="1" height="12" fill="#2b4a47"/><rect x="414" y="159" width="3" height="10" fill="#2b4a47"/><rect x="415" y="160" width="1" height="8" fill="#3cb371"/><rect x="419" y="153" width="1" height="14" fill="#ff0000"/><rect x="418" y="159" width="3" height="7" fill="#ff0000"/><rect x="423" y="160" width="1" height="13" fill="#2b4a47"/><rect x="422" y="163" width="3" height="3" fill="#2b4a47"/><rect x="423" y="164" width="1" height="1" fill="#3cb371"/><rect x="427" y="157" width="1" height="9" fill="#2b4a47"/><rect x="426" y="158" width="3" height="7" fill="#2b4a47"/><rect x="427" y="159" width="1" height="5" fill="#3cb371"/><rect x="431" y="150" width="1" height="11" fill="#2b4a47"/><rect x="430" y="153" width="3" height="5" fill="#2b4a47"/><rect x="431" y="154" width="1" height="3" fill="#3cb371"/><rect x="435" y="153" width="1" height="13" fill="#ff0000"/><rect x="434" y="153" width="3" height="10" fill="#ff0000"/><rect x="439" y="160" width="1" height="13" fill="#ff0000"/><rect x="438" y="161" width="3" height="11" fill="#ff0000"/><rect x="443" y="152" width="1" height="23" fill="#2b4a47"/><rect x="442" y="158" width="3" height="14" fill="#2b4a47"/><rect x="443" y="159" width="1" height="12" fill="#3cb371"/><rect x="447" y="154" width="1" height="11" fill="#ff0000"/><rect x="446" y="158" width="3" height="6" fill="#ff0000"/><rect x="451" y="152" width="1" height="18" fill="#2b4a47"/><rect x="450" y="155" width="3" height="9" fill="#2b4a47"/><rect x="451" y="156" width="1" height="7" fill="#3cb371"/><rect x="455" y="154" width="1" height="15" fill="#ff0000"/><rect x="454" y="155" width="3" height="9" fill="#ff0000"/><rect x="459" y="162" width="1" height="9" fill="#ff0000"/><rect x="458" y="162" width="3" height="2" fill="#ff0000"/><rect x="463" y="158" width="1" height="6" fill="#2b4a47"/><rect x="462" y="159" width="3" height="5" fill="#2b4a47"/><rect x="463" y="160" width="1" height="3" fill="#3cb371"/><rect x="467" y="158" width="1" height="14" fill="#2b4a47"/><rect x="466" y="159" width="3" height="1" fill="#2b4a47"/><rect x="471" y="150" width="1" height="16" fill="#2b4a47"/><rect x="470" y="158" width="3" height="2" fill="#2b4a47"/><rect x="475" y="146" width="1" height="30" fill="#ff0000"/><rect x="474" y="158" width="3" height="13" fill="#ff0000"/><rect x="479" y="150" width="1" height="25" fill="#2b4a47"/><rect x="478" y="154" width="3" height="17" fill="#2b4a47"/><rect x="479" y="155" width="1" height="15" fill="#3cb371"/><rect x="483" y="137" width="1" height="23" fill="#2b4a47"/><rect x="482" y="139" width="3" height="15" fill="#2b4a47"/><rect x="483" y="140" width="1" height="13" fill="#3cb371"/><rect x="487" y="127" width="1" height="30" fill="#ff0000"/><rect x="486" y="139" width="3" height="15" fill="#ff0000"/><rect x="491" y="146" width="1" height="12" fill="#2b4a47"/><rect x="490" y="152" width="3" height="2" fill="#2b4a47"/><rect x="495" y="151" width="1" height="8" fill="#ff0000"/><rect x="494" y="152" width="3" height="2" fill="#ff0000"/><rect x="499" y="144" width="1" height="10" fill="#2b4a47"/><rect x="498" y="145" width="3" height="9" fill="#2b4a47"/><rect x="499" y="146" width="1" height="7" fill="#3cb371"/><rect x="503" y="135" width="1" height="14" fill="#2b4a47"/><rect x="502" y="139" width="3" height="7" fill="#2b4a47"/><rect x="503" y="140" width="1" height="5" fill="#3cb371"/><rect x="507" y="80" width="1" height="29" fill="#ff0000"/><rect x="506" y="84" width="3" height="19" fill="#ff0000"/><rect x="511" y="88" width="1" height="21" fill="#2b4a47"/><rect x="510" y="89" width="3" height="14" fill="#2b4a47"/><rect x="511" y="90" width="1" height="12" fill="#3cb371"/><rect x="515" y="89" width="1" height="32" fill="#ff0000"/><rect x="514" y="89" width="3" height="30" fill="#ff0000"/><rect x="519" y="101" width="1" height="21" fill="#2b4a47"/><rect x="518" y="103" width="3" height="17" fill="#2b4a47"/><rect x="519" y="104" width="1" height="15" fill="#3cb371"/><rect x="523" y="93" width="1" height="11" fill="#2b4a47"/><rect x="522" y="95" width="3" height="9" fill="#2b4a47"/><rect x="523" y="96" width="1" height="7" fill="#3cb371"/><rect x="527" y="93" width="1" height="12" fill="#ff0000"/><rect x="526" y="95" width="3" height="3" fill="#ff0000"/><rect x="531" y="84" width="1" height="17" fill="#2b4a47"/><rect x="530" y="92" width="3" height="8" fill="#2b4a47"/><rect x="531" y="93" width="1" height="6" fill="#3cb371"/><rect x="535" y="85" width="1" height="15" fill="#2b4a47"/><rect x="534" y="89" width="3" height="4" fill="#2b4a47"/><rect x="535" y="90" width="1" height="2" fill="#3cb371"/><rect x="539" y="86" width="1" height="11" fill="#ff0000"/><rect x="538" y="89" width="3" height="8" fill="#ff0000"/></g>
<g stroke="#9dbccb" stroke-width="1.25" fill="none"><line x1="3" y1="264.4" x2="510.7" y2="27.3"/><line x1="174.9" y1="324" x2="707.2" y2="75.8"/></g>
<g clip-path="url(#outside)"><rect x="263" y="118.5" width="410" height="21" fill="#000" fill-opacity="0.33" filter="url(#bl)"/></g>
<rect x="263.5" y="118.5" width="409" height="20" fill="url(#zg)" stroke="#a0c0ea" stroke-width="1"/>
<g stroke="#43566a" stroke-width="3.1" stroke-linecap="round" fill="#43566a"><line x1="544" y1="90.5" x2="566" y2="128"/><line x1="572" y1="134.5" x2="616.5" y2="16.5"/></g><g fill="#43566a"><polygon points="570.5,135 558,128.3 569.6,121.8"/><polygon points="619.4,8.6 609.2,17.4 621.8,21.8"/></g>
<path fill="url(#lg)" d="M718.4 41.4 H757 Q764.2 41.4 764.2 49 V61 Q764.2 68.4 757 68.4 H739 V61 L756.2 59.6 V51 H728.8 V85.7 H718.4 Z M739 76.7 H755 L760.4 85.7 H739 Z"/>
<g stroke="#000" stroke-width="1" shape-rendering="crispEdges" fill="none"><line x1="2" y1="2.5" x2="777" y2="2.5"/><line x1="2.5" y1="2" x2="2.5" y2="397"/><line x1="2" y1="396.5" x2="777" y2="396.5"/><line x1="776.5" y1="2" x2="776.5" y2="397"/></g>
<g stroke="#000" stroke-width="1" shape-rendering="crispEdges"><line x1="777" y1="30.5" x2="779" y2="30.5"/><line x1="777" y1="63.5" x2="779" y2="63.5"/><line x1="777" y1="129.5" x2="779" y2="129.5"/><line x1="777" y1="162.5" x2="779" y2="162.5"/><line x1="777" y1="195.5" x2="779" y2="195.5"/><line x1="777" y1="228.5" x2="779" y2="228.5"/><line x1="777" y1="261.5" x2="779" y2="261.5"/><line x1="777" y1="294.5" x2="779" y2="294.5"/><line x1="777" y1="327.5" x2="779" y2="327.5"/><line x1="777" y1="360.5" x2="779" y2="360.5"/><line x1="777" y1="393.5" x2="779" y2="393.5"/><line x1="3.5" y1="397" x2="3.5" y2="400"/><line x1="67.5" y1="397" x2="67.5" y2="400"/><line x1="131.5" y1="397" x2="131.5" y2="400"/><line x1="195.5" y1="397" x2="195.5" y2="400"/><line x1="259.5" y1="397" x2="259.5" y2="400"/><line x1="323.5" y1="397" x2="323.5" y2="400"/><line x1="387.5" y1="397" x2="387.5" y2="400"/><line x1="451.5" y1="397" x2="451.5" y2="400"/><line x1="515.5" y1="397" x2="515.5" y2="400"/></g>
<g font-family="Liberation Sans, sans-serif" font-size="9.8px" text-rendering="geometricPrecision" fill="#000" stroke="#000" stroke-width="0.2"><text x="782" y="34" textLength="32" lengthAdjust="spacingAndGlyphs">0.69500</text><text x="782" y="67" textLength="32" lengthAdjust="spacingAndGlyphs">0.69280</text><text x="782" y="133" textLength="32" lengthAdjust="spacingAndGlyphs">0.68840</text><text x="782" y="166" textLength="32" lengthAdjust="spacingAndGlyphs">0.68620</text><text x="782" y="199" textLength="32" lengthAdjust="spacingAndGlyphs">0.68400</text><text x="782" y="232" textLength="32" lengthAdjust="spacingAndGlyphs">0.68180</text><text x="782" y="265" textLength="32" lengthAdjust="spacingAndGlyphs">0.67960</text><text x="782" y="298" textLength="32" lengthAdjust="spacingAndGlyphs">0.67740</text><text x="782" y="331" textLength="32" lengthAdjust="spacingAndGlyphs">0.67515</text><text x="782" y="364" textLength="32" lengthAdjust="spacingAndGlyphs">0.67295</text><text x="782" y="397" textLength="32" lengthAdjust="spacingAndGlyphs">0.67075</text><text x="1.7" y="409" textLength="53" lengthAdjust="spacingAndGlyphs">23 Nov 2018</text><text x="65.7" y="409" textLength="56" lengthAdjust="spacingAndGlyphs">26 Nov 10:00</text><text x="129.7" y="409" textLength="56" lengthAdjust="spacingAndGlyphs">27 Nov 02:00</text><text x="193.7" y="409" textLength="56" lengthAdjust="spacingAndGlyphs">27 Nov 18:00</text><text x="257.7" y="409" textLength="56" lengthAdjust="spacingAndGlyphs">28 Nov 10:00</text><text x="321.7" y="409" textLength="56" lengthAdjust="spacingAndGlyphs">29 Nov 02:00</text><text x="385.7" y="409" textLength="56" lengthAdjust="spacingAndGlyphs">29 Nov 18:00</text><text x="449.7" y="409" textLength="56" lengthAdjust="spacingAndGlyphs">30 Nov 10:00</text><text x="513.7" y="409" textLength="49" lengthAdjust="spacingAndGlyphs">3 Dec 02:00</text><text x="17.8" y="14" textLength="53.5" lengthAdjust="spacingAndGlyphs">NZDUSD,H1</text><text x="78" y="14" textLength="32" lengthAdjust="spacingAndGlyphs">0.69110</text><text x="114" y="14" textLength="32" lengthAdjust="spacingAndGlyphs">0.69131</text><text x="150" y="14" textLength="32" lengthAdjust="spacingAndGlyphs">0.69059</text><text x="186" y="14" textLength="32" lengthAdjust="spacingAndGlyphs">0.69061</text></g>
<polygon points="6,9 14,9 10,13" fill="#000"/>
<rect x="779" y="91" width="39" height="11" fill="#000" shape-rendering="crispEdges"/><line x1="777" y1="96.5" x2="779" y2="96.5" stroke="#000" shape-rendering="crispEdges"/>
<text x="782" y="100" font-family="Liberation Sans, sans-serif" font-size="9.8px" text-rendering="geometricPrecision" fill="#fff" stroke="#fff" stroke-width="0.2" textLength="32" lengthAdjust="spacingAndGlyphs">0.69061</text>
</svg>
</body></html>
